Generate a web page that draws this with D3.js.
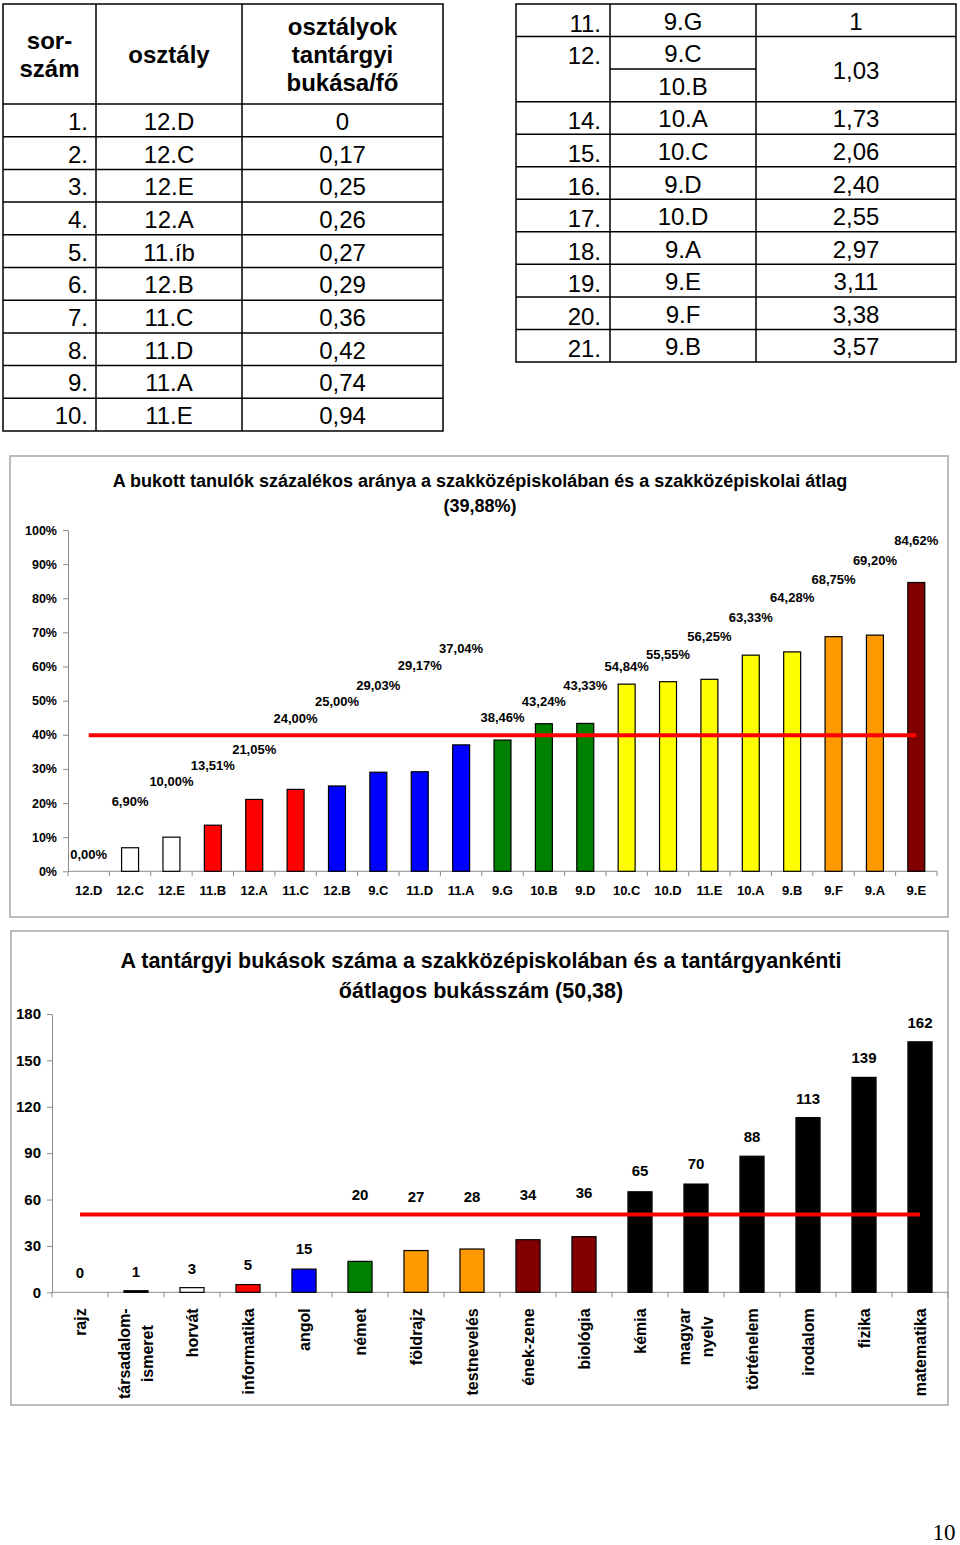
<!DOCTYPE html>
<html>
<head>
<meta charset="utf-8">
<script src="https://cdn.jsdelivr.net/npm/d3@7"></script>
<style>
  body { margin: 0; background: #fff; }
  svg { display: block; font-family: Arial, "Liberation Sans", sans-serif; }
</style>
</head>
<body>
<svg id="page" width="960" height="1545"></svg>
<script>
// --- tables ---
const tableHeader = [['sor-', 'szám'], ['osztály'], ['osztályok', 'tantárgyi', 'bukása/fő']];
const tableRankA = ['1.', '2.', '3.', '4.', '5.', '6.', '7.', '8.', '9.', '10.'];
const tableClassA = ['12.D', '12.C', '12.E', '12.A', '11.íb', '12.B', '11.C', '11.D', '11.A', '11.E'];
const tableFailA = ['0', '0,17', '0,25', '0,26', '0,27', '0,29', '0,36', '0,42', '0,74', '0,94'];
// null = merged with the row above
const tableRankB = ['11.', '12.', null, '14.', '15.', '16.', '17.', '18.', '19.', '20.', '21.'];
const tableClassB = ['9.G', '9.C', '10.B', '10.A', '10.C', '9.D', '10.D', '9.A', '9.E', '9.F', '9.B'];
const tableFailB = ['1', '1,03', null, '1,73', '2,06', '2,40', '2,55', '2,97', '3,11', '3,38', '3,57'];

// --- chart 1: failed students, percent ---
const pctTitle = ['A bukott tanulók százalékos aránya a szakközépiskolában és a szakközépiskolai átlag', '(39,88%)'];
const pctClasses = ['12.D', '12.C', '12.E', '11.B', '12.A', '11.C', '12.B', '9.C', '11.D', '11.A', '9.G',
  '10.B', '9.D', '10.C', '10.D', '11.E', '10.A', '9.B', '9.F', '9.A', '9.E'];
const pctValues = [0, 6.90, 10.00, 13.51, 21.05, 24.00, 25.00, 29.03, 29.17, 37.04, 38.46,
  43.24, 43.33, 54.84, 55.55, 56.25, 63.33, 64.28, 68.75, 69.20, 84.62];
const pctGroups = ['white', 'white', 'white', 'red', 'red', 'red', 'blue', 'blue', 'blue', 'blue', 'green',
  'green', 'green', 'yellow', 'yellow', 'yellow', 'yellow', 'yellow', 'orange', 'orange', 'darkred'];
// the labels were dragged around in the original, these are their heights in % units
const pctLabelLevels = [4.8, 20.4, 26.2, 31.1, 35.8, 44.7, 49.9, 54.6, 60.2, 65.4, 45.2,
  49.9, 54.6, 59.9, 63.4, 68.7, 74.5, 80.1, 85.4, 91.2, 96.8];
const pctAverage = 39.88;
const pctTicks = [0, 10, 20, 30, 40, 50, 60, 70, 80, 90, 100];

// --- chart 2: number of fails per subject ---
const subjTitle = ['A tantárgyi bukások száma a szakközépiskolában és a tantárgyankénti', 'őátlagos bukásszám (50,38)'];
const subjects = ['rajz', 'társadalom-\nismeret', 'horvát', 'informatika', 'angol', 'német', 'földrajz',
  'testnevelés', 'ének-zene', 'biológia', 'kémia', 'magyar\nnyelv', 'történelem', 'irodalom', 'fizika', 'matematika'];
const subjValues = [0, 1, 3, 5, 15, 20, 27, 28, 34, 36, 65, 70, 88, 113, 139, 162];
const subjGroups = ['white', 'black', 'white', 'red', 'blue', 'green', 'orange',
  'orange', 'darkred', 'darkred', 'black', 'black', 'black', 'black', 'black', 'black'];
const subjLabelLevels = [12.7, 13.3, 15.5, 17.6, 28.4, 62.9, 61.8, 61.8, 62.9, 64.7, 78.6, 83.4, 100.6, 125.5, 151.4, 174.4];
const subjAverage = 50.38;
const subjTicks = [0, 30, 60, 90, 120, 150, 180];

const palette = {
  white: '#ffffff', red: '#ff0000', blue: '#0000ff', green: '#008000',
  yellow: '#ffff00', orange: '#ff9900', darkred: '#800000', black: '#000000'
};
const axisColor = '#8c8c8c';
const font = 'Arial, "Liberation Sans", sans-serif';

const svg = d3.select('#page');

function cellText(g, x, y, txt, anchor, bold) {
  g.append('text')
    .attr('x', x).attr('y', y)
    .attr('text-anchor', anchor)
    .attr('font-size', 24)
    .attr('font-weight', bold ? 'bold' : 'normal')
    .text(txt);
}

function hLine(g, x1, x2, y) {
  g.append('line').attr('x1', x1).attr('x2', x2).attr('y1', y).attr('y2', y)
    .attr('stroke', '#000').attr('stroke-width', 1.5);
}

function vLine(g, x, y1, y2) {
  g.append('line').attr('x1', x).attr('x2', x).attr('y1', y1).attr('y2', y2)
    .attr('stroke', '#000').attr('stroke-width', 1.5);
}

function drawLeftTable() {
  const g = svg.append('g');
  const cols = [3, 96, 242, 443];
  const top = 4;
  const row = d3.scaleLinear().domain([0, tableRankA.length]).range([104, 431]);
  const rowH = row(1) - row(0);

  g.append('rect').attr('x', cols[0]).attr('y', top)
    .attr('width', cols[3] - cols[0]).attr('height', row(tableRankA.length) - top)
    .attr('fill', 'none').attr('stroke', '#000').attr('stroke-width', 1.5);
  vLine(g, cols[1], top, row(tableRankA.length));
  vLine(g, cols[2], top, row(tableRankA.length));
  d3.range(tableRankA.length).forEach(i => hLine(g, cols[0], cols[3], row(i)));

  // header, lines centered round baseline 63
  tableHeader.forEach((lines, c) => {
    const cx = (cols[c] + cols[c + 1]) / 2;
    lines.forEach((l, k) => cellText(g, cx, 63 + (k - (lines.length - 1) / 2) * 28, l, 'middle', true));
  });

  tableRankA.forEach((r, i) => {
    const by = row(i) + rowH / 2 + 9.5;
    cellText(g, cols[1] - 8, by, r, 'end');
    cellText(g, (cols[1] + cols[2]) / 2, by, tableClassA[i], 'middle');
    cellText(g, (cols[2] + cols[3]) / 2, by, tableFailA[i], 'middle');
  });
}

function drawRightTable() {
  const g = svg.append('g');
  const cols = [516, 610, 756, 956];
  const row = d3.scaleLinear().domain([0, tableClassB.length]).range([4, 362]);
  const rowH = row(1) - row(0);
  const n = tableClassB.length;

  g.append('rect').attr('x', cols[0]).attr('y', row(0))
    .attr('width', cols[3] - cols[0]).attr('height', row(n) - row(0))
    .attr('fill', 'none').attr('stroke', '#000').attr('stroke-width', 1.5);
  vLine(g, cols[1], row(0), row(n));
  vLine(g, cols[2], row(0), row(n));
  d3.range(1, n).forEach(i => {
    if (tableRankB[i] === null) hLine(g, cols[1], cols[2], row(i));
    else hLine(g, cols[0], cols[3], row(i));
  });

  tableClassB.forEach((c, i) => {
    const by = row(i) + rowH / 2 + 9.5;
    cellText(g, (cols[1] + cols[2]) / 2, by, c, 'middle');
    if (tableRankB[i] !== null) {
      cellText(g, cols[1] - 9, by + 2, tableRankB[i], 'end');
      // merged value cell is centered over both rows
      const span = tableFailB[i + 1] === null ? 2 : 1;
      cellText(g, (cols[2] + cols[3]) / 2, row(i) + span * rowH / 2 + 9.5, tableFailB[i], 'middle');
    }
  });
}

function drawBarChart(cfg) {
  const g = svg.append('g');
  const [fx1, fy1, fx2, fy2] = cfg.frame;

  g.append('rect')
    .attr('x', fx1).attr('y', fy1)
    .attr('width', fx2 - fx1).attr('height', fy2 - fy1)
    .attr('fill', '#fff').attr('stroke', '#a6a6a6').attr('stroke-width', 1.5);

  cfg.title.forEach((line, i) => {
    g.append('text')
      .attr('x', cfg.titleX).attr('y', cfg.titleY + i * cfg.titleGap)
      .attr('text-anchor', 'middle')
      .attr('font-size', cfg.titleSize).attr('font-weight', 'bold')
      .text(line);
  });

  const x = d3.scaleBand().domain(cfg.cats).range([cfg.left, cfg.right]);
  const y = d3.scaleLinear().domain([0, cfg.yMax]).range([cfg.bottom, cfg.top]);
  const bw = x.bandwidth() * cfg.barRatio;
  const cx = c => x(c) + x.bandwidth() / 2;

  const yAxis = d3.axisLeft(y)
    .tickValues(cfg.ticks)
    .tickFormat(cfg.tickFormat)
    .tickSize(5)
    .tickSizeOuter(0)
    .tickPadding(6);

  g.append('g')
    .attr('transform', `translate(${cfg.left},0)`)
    .call(yAxis)
    .call(a => a.select('.domain').attr('stroke', axisColor))
    .call(a => a.selectAll('.tick line').attr('stroke', axisColor))
    .call(a => a.selectAll('.tick text')
      .attr('font-family', font).attr('font-weight', 'bold')
      .attr('font-size', cfg.tickFont).attr('fill', '#000'));

  // x axis: line plus ticks on the category boundaries
  const bounds = cfg.cats.map(c => x(c)).concat([cfg.right]);
  g.append('line')
    .attr('x1', cfg.left).attr('x2', cfg.right)
    .attr('y1', y(0)).attr('y2', y(0))
    .attr('stroke', axisColor);
  g.selectAll('.xtick').data(bounds).join('line')
    .attr('class', 'xtick')
    .attr('x1', d => d).attr('x2', d => d)
    .attr('y1', y(0)).attr('y2', y(0) + 5)
    .attr('stroke', axisColor);

  const rows = cfg.cats.map((c, i) => ({ c, v: cfg.values[i], fill: palette[cfg.groups[i]], lv: cfg.labelLevels[i] }));

  g.selectAll('.bar').data(rows.filter(d => d.v > 0)).join('rect')
    .attr('class', 'bar')
    .attr('x', d => cx(d.c) - bw / 2)
    .attr('y', d => y(d.v))
    .attr('width', bw)
    .attr('height', d => y(0) - y(d.v))
    .attr('fill', d => d.fill)
    .attr('stroke', '#000').attr('stroke-width', 1.2);

  g.append('line')
    .attr('x1', cx(cfg.cats[0])).attr('x2', cx(cfg.cats[cfg.cats.length - 1]))
    .attr('y1', y(cfg.avg)).attr('y2', y(cfg.avg))
    .attr('stroke', '#ff0000').attr('stroke-width', 4);

  g.selectAll('.vlabel').data(rows).join('text')
    .attr('class', 'vlabel')
    .attr('x', d => cx(d.c))
    .attr('y', d => y(d.lv))
    .attr('dy', '0.35em')
    .attr('text-anchor', 'middle')
    .attr('font-size', cfg.labelFont).attr('font-weight', 'bold')
    .text(d => cfg.labelFormat(d.v));

  cfg.drawCategories(g, x, cx, y);
}

drawLeftTable();
drawRightTable();

drawBarChart({
  frame: [10, 456, 948, 917],
  title: pctTitle, titleX: 480, titleY: 487, titleGap: 25, titleSize: 18,
  cats: pctClasses, values: pctValues, groups: pctGroups, labelLevels: pctLabelLevels,
  avg: pctAverage, ticks: pctTicks, yMax: 100,
  left: 68, right: 937, top: 530, bottom: 871.3,
  barRatio: 0.41, tickFont: 12.5, labelFont: 13,
  tickFormat: d => d + '%',
  labelFormat: v => v.toFixed(2).replace('.', ',') + '%',
  drawCategories: (g, x, cx, y) => {
    g.selectAll('.cat').data(pctClasses).join('text')
      .attr('class', 'cat')
      .attr('x', d => cx(d)).attr('y', y(0) + 23.7)
      .attr('text-anchor', 'middle')
      .attr('font-size', 13).attr('font-weight', 'bold')
      .text(d => d);
  }
});

drawBarChart({
  frame: [11, 931, 948, 1405],
  title: subjTitle, titleX: 481, titleY: 968, titleGap: 30, titleSize: 21.5,
  cats: subjects, values: subjValues, groups: subjGroups, labelLevels: subjLabelLevels,
  avg: subjAverage, ticks: subjTicks, yMax: 180,
  left: 52, right: 948, top: 1014, bottom: 1292.3,
  barRatio: 0.43, tickFont: 15, labelFont: 15,
  tickFormat: d => d,
  labelFormat: v => String(v),
  drawCategories: (g, x, cx, y) => {
    subjects.forEach(s => {
      const lines = s.split('\n');
      const t = g.append('text')
        .attr('font-size', 16).attr('font-weight', 'bold')
        .attr('text-anchor', 'middle');
      lines.forEach((l, k) => {
        t.append('tspan')
          .attr('x', 0)
          .attr('y', (k - (lines.length - 1) / 2) * 23)
          .attr('dy', '0.35em')
          .text(l);
      });
      const len = d3.max(t.selectAll('tspan').nodes(), n => n.getComputedTextLength());
      t.attr('transform', `translate(${cx(s)},${y(0) + 16 + len / 2}) rotate(-90)`);
    });
  }
});

// page number
svg.append('text')
  .attr('x', 944).attr('y', 1540)
  .attr('text-anchor', 'middle')
  .attr('font-family', '"Liberation Serif", "Times New Roman", serif')
  .attr('font-size', 23)
  .text('10');
</script>
</body>
</html>
